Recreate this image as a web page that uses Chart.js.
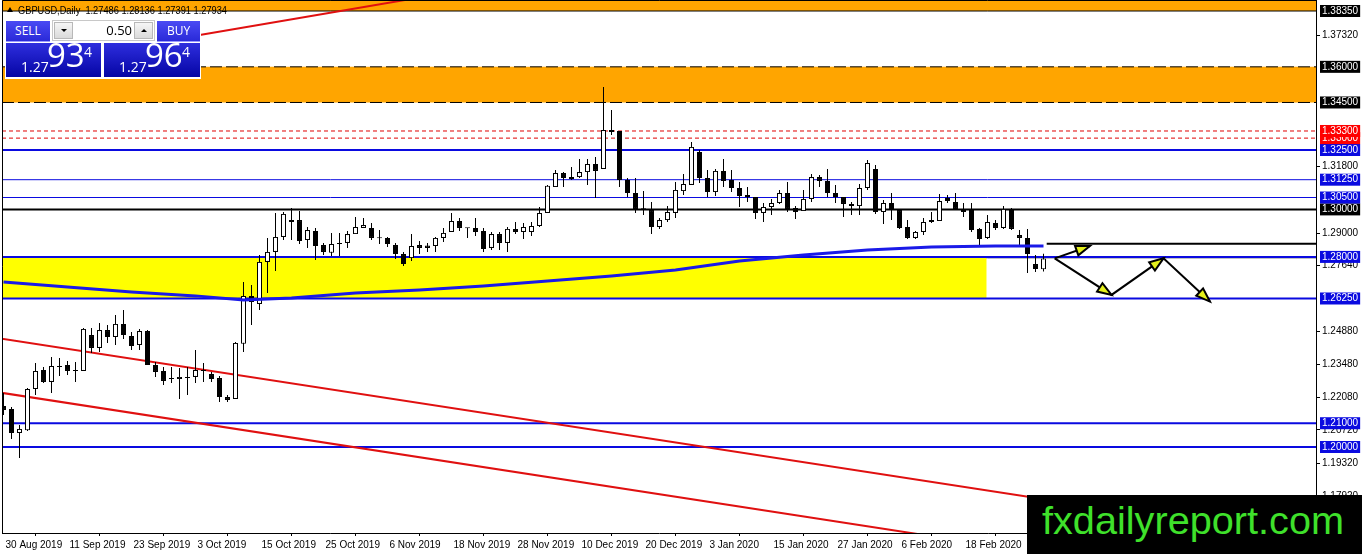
<!DOCTYPE html>
<html>
<head>
<meta charset="utf-8">
<title>GBPUSD Daily</title>
<script src="https://cdn.jsdelivr.net/npm/chart.js@4.4.1/dist/chart.umd.min.js"></script>
<style>
  html, body { margin:0; padding:0; background:#fff; }
  #wrap { position:relative; width:1362px; height:554px; overflow:hidden; }
  #chart { position:absolute; left:0; top:0; }
  #title { position:absolute; left:18px; top:5.5px; font:10px/10px "Liberation Sans", Arial, sans-serif; color:#000; white-space:pre; transform-origin:left top; }
  #tri { position:absolute; left:7px; top:7px; width:0; height:0; border-left:3px solid transparent; border-right:3px solid transparent; border-bottom:5px solid #000; }
  #panel { position:absolute; left:5px; top:18px; width:196px; height:61px; background:#fff; font-family:"Open Sans", sans-serif; }
  .btn { position:absolute; top:3px; height:20px; width:44px; background:linear-gradient(#4a4af4,#2a2ad8); color:#fff; font-size:12px; line-height:20px; text-align:center; border-bottom:1px solid #9a9aff; }
  #sell { left:1px; }
  #buy { left:152px; width:43px; }
  #spin { position:absolute; left:47px; top:2px; width:103px; height:21px; background:#fff; border:1px solid #c8c8c8; box-sizing:border-box; }
  .sbtn { position:absolute; top:1px; width:19px; height:17px; background:linear-gradient(#f6f6f6,#dadada); border:1px solid #b8b8b8; box-sizing:border-box; }
  #sdown { left:1px; }
  #sup { right:1px; }
  .dn, .up { position:absolute; left:5.5px; top:6px; width:0; height:0; border-left:3px solid transparent; border-right:3px solid transparent; }
  .dn { border-top:3px solid #000; }
  .up { border-bottom:3px solid #000; }
  #lot { position:absolute; right:22px; top:0; font-size:13px; line-height:19px; color:#000; }
  .px { position:absolute; top:25px; width:95px; height:34px; background:linear-gradient(#2e2ede,#0505a4); color:#fff; overflow:hidden; }
  #pxs { left:1px; }
  #pxb { left:99px; width:96px; }
  .s { position:absolute; left:15px; top:16.6px; font-size:14px; line-height:14px; }
  .b { position:absolute; left:41px; top:-5.9px; font-size:33px; line-height:36px; }
  .p { position:absolute; left:78px; top:1.9px; font-size:14px; line-height:14px; }
  #logo { position:absolute; left:1027px; top:495px; width:335px; height:59px; background:#000; overflow:hidden; }
  #logo span { position:absolute; left:15px; top:6px; font-size:39px; line-height:39px; color:#3fe12b; white-space:nowrap; transform-origin:left top;
    font-family:"Liberation Sans Narrow", "Liberation Sans", Arial, sans-serif; }
</style>
</head>
<body>
<div id="wrap">
  <canvas id="chart" width="1362" height="554"></canvas>
  <div id="tri"></div>
  <div id="title">GBPUSD,Daily  1.27486 1.28136 1.27391 1.27934</div>
  <div id="panel">
    <div class="btn" id="sell">SELL</div>
    <div id="spin">
      <div class="sbtn" id="sdown"><i class="dn"></i></div>
      <div id="lot">0.50</div>
      <div class="sbtn" id="sup"><i class="up"></i></div>
    </div>
    <div class="btn" id="buy">BUY</div>
    <div class="px" id="pxs"><span class="s">1.27</span><span class="b">93</span><span class="p">4</span></div>
    <div class="px" id="pxb"><span class="s">1.27</span><span class="b">96</span><span class="p">4</span></div>
  </div>
  <div id="logo"><span>fxdailyreport.com</span></div>
</div>
<script>
// daily bars (bar 0 = 30 Aug 2019)
var opens = [
  1.2173,1.2160,1.2059,1.2070,1.2244,1.2324,1.2274,1.2341,1.2345,1.2320,
  1.2320,1.2471,1.2417,1.2492,1.2463,1.2518,1.2467,1.2429,1.2488,1.2345,
  1.2320,1.2290,1.2286,1.2295,1.2295,1.2324,1.2307,1.2290,1.2210,1.2202,
  1.2434,1.2636,1.2602,1.2779,1.2821,1.2884,1.2947,1.2955,1.2871,1.2909,
  1.2850,1.2817,1.2854,1.2859,1.2896,1.2922,1.2922,1.2880,1.2880,1.2850,
  1.2812,1.2795,1.2850,1.2848,1.2846,1.2880,1.2905,1.2951,1.2922,1.2922,
  1.2909,1.2838,1.2896,1.2859,1.2918,1.2905,1.2905,1.2930,1.2985,1.3094,
  1.3153,1.3128,1.3136,1.3157,1.3191,1.3170,1.3334,1.3330,1.3124,1.3069,
  1.3002,1.2997,1.2926,1.2955,1.2985,1.3077,1.3103,1.3242,1.3132,1.3073,
  1.3162,1.3124,1.3090,1.3061,1.3052,1.2985,1.3010,1.3027,1.3069,1.3006,
  1.2993,1.3044,1.3136,1.3120,1.3069,1.3052,1.3023,1.3014,1.3090,1.3170,
  1.2989,1.3027,1.2997,1.2926,1.2880,1.2905,1.2947,1.2951,1.3048,1.3031,
  1.2997,1.3002,1.2918,1.2880,1.2943,1.2922,1.3002,1.2892,1.2880,1.2770,
  1.27486];
var highs = [
  1.2227,1.2168,1.2093,1.2248,1.2354,1.2337,1.2379,1.2375,1.2362,1.2358,
  1.2501,1.2501,1.2522,1.2513,1.2556,1.2577,1.2484,1.2497,1.2492,1.2358,
  1.2337,1.2337,1.2332,1.2337,1.2408,1.2354,1.2316,1.2299,1.2219,1.2442,
  1.2694,1.2682,1.2808,1.2880,1.2985,1.2989,1.3006,1.2993,1.2926,1.2922,
  1.2859,1.2901,1.2901,1.2909,1.2968,1.2964,1.2943,1.2913,1.2884,1.2859,
  1.2821,1.2896,1.2867,1.2859,1.2884,1.2922,1.2985,1.2964,1.2922,1.2964,
  1.2922,1.2905,1.2905,1.2926,1.2947,1.2943,1.2947,1.3010,1.3103,1.3166,
  1.3157,1.3178,1.3212,1.3212,1.3221,1.3515,1.3418,1.3330,1.3132,1.3132,
  1.3077,1.3031,1.2964,1.3014,1.3115,1.3149,1.3284,1.3250,1.3166,1.3170,
  1.3212,1.3166,1.3115,1.3094,1.3052,1.3027,1.3044,1.3082,1.3115,1.3014,
  1.3082,1.3149,1.3145,1.3170,1.3103,1.3052,1.3031,1.3107,1.3208,1.3187,
  1.3040,1.3069,1.3002,1.2955,1.2909,1.2964,1.2989,1.3065,1.3061,1.3069,
  1.3027,1.3027,1.2922,1.2976,1.2955,1.3014,1.3006,1.2913,1.2918,1.2808,
  1.28136];
var lows = [
  1.2135,1.2034,1.1954,1.2067,1.2219,1.2269,1.2227,1.2299,1.2303,1.2274,
  1.2320,1.2396,1.2400,1.2438,1.2429,1.2455,1.2408,1.2408,1.2345,1.2295,
  1.2261,1.2269,1.2202,1.2219,1.2269,1.2274,1.2274,1.2189,1.2189,1.2202,
  1.2400,1.2513,1.2577,1.2648,1.2741,1.2871,1.2871,1.2854,1.2838,1.2787,
  1.2808,1.2804,1.2804,1.2838,1.2896,1.2922,1.2871,1.2854,1.2842,1.2791,
  1.2762,1.2783,1.2812,1.2821,1.2821,1.2863,1.2905,1.2909,1.2880,1.2888,
  1.2821,1.2829,1.2829,1.2821,1.2896,1.2875,1.2888,1.2926,1.2985,1.3094,
  1.3094,1.3124,1.3132,1.3103,1.3048,1.3170,1.3313,1.3094,1.3052,1.2985,
  1.2976,1.2896,1.2918,1.2947,1.2964,1.3061,1.3103,1.3111,1.3052,1.3056,
  1.3094,1.3073,1.3010,1.3031,1.2960,1.2947,1.2976,1.3023,1.2989,1.2960,
  1.2993,1.3031,1.3094,1.3052,1.3027,1.2968,1.2976,1.2976,1.3082,1.2981,
  1.2939,1.2955,1.2918,1.2875,1.2875,1.2892,1.2943,1.2951,1.3027,1.3002,
  1.2968,1.2905,1.2846,1.2875,1.2913,1.2918,1.2913,1.2850,1.2732,1.2737,
  1.27391];
var closes = [
  1.2156,1.2059,1.2076,1.2244,1.2320,1.2274,1.2341,1.2337,1.2320,1.2321,
  1.2497,1.2417,1.2492,1.2463,1.2518,1.2471,1.2425,1.2488,1.2345,1.2316,
  1.2278,1.2286,1.2295,1.2290,1.2324,1.2320,1.2286,1.2210,1.2198,1.2438,
  1.2636,1.2610,1.2779,1.2821,1.2884,1.2981,1.2955,1.2867,1.2913,1.2846,
  1.2821,1.2854,1.2855,1.2896,1.2926,1.2934,1.2880,1.2879,1.2854,1.2812,
  1.2770,1.2846,1.2838,1.2838,1.2880,1.2901,1.2951,1.2922,1.2921,1.2905,
  1.2833,1.2896,1.2859,1.2918,1.2905,1.2926,1.2930,1.2985,1.3099,1.3153,
  1.3132,1.3136,1.3157,1.3191,1.3162,1.3334,1.3326,1.3124,1.3069,1.3002,
  1.3001,1.2926,1.2955,1.2989,1.3082,1.3107,1.3263,1.3132,1.3073,1.3162,
  1.3120,1.3090,1.3056,1.3052,1.2985,1.3010,1.3027,1.3069,1.3002,1.2989,
  1.3044,1.3136,1.3120,1.3069,1.3052,1.3023,1.3014,1.3090,1.3195,1.2989,
  1.3027,1.2997,1.2922,1.2880,1.2905,1.2947,1.2955,1.3035,1.3035,1.3002,
  1.2989,1.2913,1.2875,1.2947,1.2922,1.3002,1.2918,1.2880,1.2812,1.2749,
  1.27934];

// date labels every 8 bars
var dateTickBars = [0,8,16,24,32,40,48,56,64,72,80,88,96,104,112,120,128];
var dateTickLabels = ['30 Aug 2019','11 Sep 2019','23 Sep 2019','3 Oct 2019','15 Oct 2019','25 Oct 2019',
  '6 Nov 2019','18 Nov 2019','28 Nov 2019','10 Dec 2019','20 Dec 2019','3 Jan 2020','15 Jan 2020',
  '27 Jan 2020','6 Feb 2020','18 Feb 2020','28 Feb 2020'];

// price scale labels
var priceTicks = [1.3732, 1.3180, 1.2900, 1.2764, 1.2488, 1.2348, 1.2208, 1.2072, 1.1932, 1.1792];

// moving average (read at a few bars)
var maBars = [0, 8, 16, 24, 30, 36, 44, 52, 60, 68, 76, 84, 92, 100, 108, 116, 124, 130];
var maValues = [1.2694, 1.2673, 1.2652, 1.2636, 1.2619, 1.2627, 1.2648, 1.2661, 1.2678, 1.2699,
  1.2720, 1.2745, 1.2783, 1.2808, 1.2829, 1.2842, 1.2846, 1.2846];

// drawn levels
var blueLevels = [1.3250, 1.3125, 1.3050, 1.2800, 1.2625, 1.2100, 1.2000];
var thinBlueLevels = [1.3125, 1.3050];
var blackLevels = [1.3835, 1.3000];
var redDashLevels = [1.3300, 1.3330];
var orangeZones = [[1.3835, 1.3950], [1.3450, 1.3600]];
var orangeEdges = [1.3600, 1.3450];
var yellowZone = [1.2625, 1.2800];
var yellowZoneEnd = 122.9;
var resistLevel = 1.2855;
var resistFrom = 130.4;
var bidPrice = 1.27934;

// trend lines [bar, price]
var trendLines = [
  [[-1, 1.2460], [160, 1.1625]],
  [[-1, 1.2232], [130, 1.1552]],
  [[15, 1.3679], [55, 1.3909]]
];
// forecast arrows
var arrowUp = [[131.4, 1.2794], [135.8, 1.2846]];
var arrowPath = [[131.4, 1.2794], [138.5, 1.2640], [145.0, 1.2794], [150.8, 1.2612]];

var X_MIN = -0.1875, X_MAX = 164.0625;
var Y_MIN = 1.16380, Y_MAX = 1.38813;
var BLUE = '#0a0ae0';
var AXIS_FONT = {family: '"Liberation Sans", Arial, sans-serif', size: 10, lineHeight: 1};

// axis label list: grid labels first, level boxes drawn over them
var axisLabels = [];
priceTicks.forEach(function(v){ axisLabels.push({value: v, kind: 'grid'}); });
[1.2000, 1.2100, 1.2625, 1.2800].forEach(function(v){ axisLabels.push({value: v, kind: 'blue'}); });
axisLabels.push({value: 1.3000, kind: 'black'});
[1.3050, 1.3125, 1.3250].forEach(function(v){ axisLabels.push({value: v, kind: 'blue'}); });
redDashLevels.forEach(function(v){ axisLabels.push({value: v, kind: 'red'}); });
orangeEdges.concat([1.3835]).forEach(function(v){ axisLabels.push({value: v, kind: 'black'}); });

var boxColors = {black: '#000000', blue: BLUE, red: '#ff0000'};
function labelKind(v){
  for (var i = 0; i < axisLabels.length; i++) if (axisLabels[i].value === v) return axisLabels[i].kind;
  return 'grid';
}

function pts(list){
  return list.map(function(p){ return {x: p[0], y: p[1]}; });
}
function hline(v, x0, x1, color, width, dash, order){
  return {type: 'line', data: [{x: x0, y: v}, {x: x1, y: v}], borderColor: color, borderWidth: width,
    borderDash: dash || [], pointRadius: 0, fill: false, order: order};
}

var datasets = [];
// bid line
datasets.push(hline(bidPrice, X_MIN, X_MAX, '#c0c0c0', 1, null, 20));
// zones
orangeZones.forEach(function(z){
  datasets.push({type: 'line', data: [{x: X_MIN, y: z[0]}, {x: X_MAX, y: z[0]}], borderColor: 'rgba(0,0,0,0)',
    pointRadius: 0, fill: {value: z[1]}, backgroundColor: '#ffa500', order: 15});
});
datasets.push({type: 'line', data: [{x: X_MIN, y: yellowZone[0]}, {x: yellowZoneEnd, y: yellowZone[0]}],
  borderColor: 'rgba(0,0,0,0)', pointRadius: 0, fill: {value: yellowZone[1]}, backgroundColor: '#ffff00', order: 15});
// levels
orangeEdges.forEach(function(v){ datasets.push(hline(v, X_MIN, X_MAX, '#000', 1, [12, 4], 10)); });
redDashLevels.forEach(function(v){ datasets.push(hline(v, X_MIN, X_MAX, '#e00000', 1, [4, 3], 10)); });
blueLevels.forEach(function(v){
  datasets.push(hline(v, X_MIN, X_MAX, BLUE, thinBlueLevels.indexOf(v) >= 0 ? 1 : 2, null, 10));
});
blackLevels.forEach(function(v){ datasets.push(hline(v, X_MIN, X_MAX, '#000', v === 1.3835 ? 1 : 2, null, 10)); });
datasets.push(hline(resistLevel, resistFrom, X_MAX, '#000', 2, null, 10));
// trend lines
trendLines.forEach(function(t){
  datasets.push({type: 'line', data: pts(t), borderColor: '#e01010', borderWidth: 2, pointRadius: 0, fill: false, order: 8});
});
// candles
datasets.push({type: 'bar', data: highs.map(function(h, i){ return {x: i, y: [lows[i], h]}; }),
  backgroundColor: '#000', barThickness: 1, grouped: false, inflateAmount: 0, order: 3});
datasets.push({type: 'bar', data: opens.map(function(o, i){ return {x: i, y: [o, closes[i]]}; }),
  backgroundColor: function(ctx){ return closes[ctx.dataIndex] >= opens[ctx.dataIndex] ? '#fff' : '#000'; },
  borderColor: '#000', borderWidth: 1, borderSkipped: false, barThickness: 5, minBarLength: 1,
  grouped: false, inflateAmount: 0, order: 2});
// moving average
datasets.push({type: 'line', data: maBars.map(function(b, i){ return {x: b, y: maValues[i]}; }),
  borderColor: '#1a1ae8', borderWidth: 3, pointRadius: 0, fill: false, order: 1});
// arrows
[arrowUp, arrowPath].forEach(function(a){
  datasets.push({type: 'line', data: pts(a), borderColor: '#000', borderWidth: 2, pointRadius: 0, fill: false,
    arrow: true, order: 0});
});

// arrow heads at the end of every segment
var arrowHeads = {
  id: 'arrowHeads',
  afterDatasetsDraw: function(chart){
    var c = chart.ctx;
    chart.data.datasets.forEach(function(ds, di){
      if (!ds.arrow) return;
      var els = chart.getDatasetMeta(di).data;
      for (var i = 1; i < els.length; i++){
        var a = els[i - 1], b = els[i];
        var ang = Math.atan2(b.y - a.y, b.x - a.x);
        var len = 14, half = 5;
        var bx = b.x - Math.cos(ang) * len, by = b.y - Math.sin(ang) * len;
        c.save();
        c.beginPath();
        c.moveTo(b.x, b.y);
        c.lineTo(bx + Math.sin(ang) * half, by - Math.cos(ang) * half);
        c.lineTo(bx - Math.sin(ang) * half, by + Math.cos(ang) * half);
        c.closePath();
        c.fillStyle = '#e4f01c';
        c.fill();
        c.lineWidth = 2;
        c.strokeStyle = '#000';
        c.stroke();
        c.restore();
      }
    });
  }
};
// chart frame left/top
var frame = {
  id: 'frame',
  afterDatasetsDraw: function(chart){
    var c = chart.ctx, a = chart.chartArea;
    c.save();
    c.strokeStyle = '#000';
    c.lineWidth = 1;
    c.beginPath();
    c.moveTo(a.left + 0.5, a.bottom);
    c.lineTo(a.left + 0.5, a.top + 0.5);
    c.lineTo(a.right, a.top + 0.5);
    c.stroke();
    c.restore();
  }
};

new Chart(document.getElementById('chart'), {
  type: 'bar',
  data: {datasets: datasets},
  plugins: [arrowHeads, frame],
  options: {
    responsive: false,
    devicePixelRatio: 1,
    animation: false,
    events: [],
    layout: {padding: {left: 2, top: 0, right: 0, bottom: 0}},
    plugins: {legend: {display: false}, tooltip: {enabled: false}},
    scales: {
      x: {
        type: 'linear', min: X_MIN, max: X_MAX, offset: false,
        afterBuildTicks: function(s){ s.ticks = dateTickBars.map(function(v){ return {value: v}; }); },
        afterFit: function(s){ s.height = 21; s.paddingLeft = 0; s.paddingRight = 0; },
        ticks: {
          autoSkip: false, maxRotation: 0, minRotation: 0, align: 'start', labelOffset: 2, padding: 3,
          color: '#000', font: {family: AXIS_FONT.family, size: 10},
          callback: function(v){ return dateTickLabels[dateTickBars.indexOf(v)]; }
        },
        grid: {drawOnChartArea: false, drawTicks: true, tickLength: 3, color: '#000'},
        border: {display: true, color: '#000', width: 1}
      },
      y: {
        type: 'linear', position: 'right', min: Y_MIN, max: Y_MAX,
        afterBuildTicks: function(s){ s.ticks = axisLabels.map(function(a){ return {value: a.value}; }); },
        afterFit: function(s){ s.width = 46; s.paddingTop = 0; s.paddingBottom = 0; },
        ticks: {
          autoSkip: false, padding: 2, font: AXIS_FONT,
          callback: function(v){ return v.toFixed(5); },
          color: function(ctx){ return labelKind(ctx.tick.value) === 'grid' ? '#000' : '#fff'; },
          showLabelBackdrop: function(ctx){ return labelKind(ctx.tick.value) !== 'grid'; },
          backdropColor: function(ctx){ return boxColors[labelKind(ctx.tick.value)] || 'rgba(0,0,0,0)'; },
          backdropPadding: {top: 1, bottom: 1, left: 2, right: 2}
        },
        grid: {
          drawOnChartArea: false, drawTicks: true, tickLength: 4,
          tickColor: function(ctx){ return ctx.tick && labelKind(ctx.tick.value) !== 'grid' ? 'rgba(0,0,0,0)' : '#000'; }
        },
        border: {display: true, color: '#000', width: 1}
      }
    }
  }
});

// fit overlay texts to their widths in the picture
function fitWidth(el, w){
  el.style.display = 'inline-block';
  var cur = el.getBoundingClientRect().width;
  if (cur > 0) el.style.transform = 'scaleX(' + (w / cur) + ')';
}
fitWidth(document.querySelector('#logo span'), 302);
fitWidth(document.getElementById('title'), 209);
</script>
</body>
</html>
